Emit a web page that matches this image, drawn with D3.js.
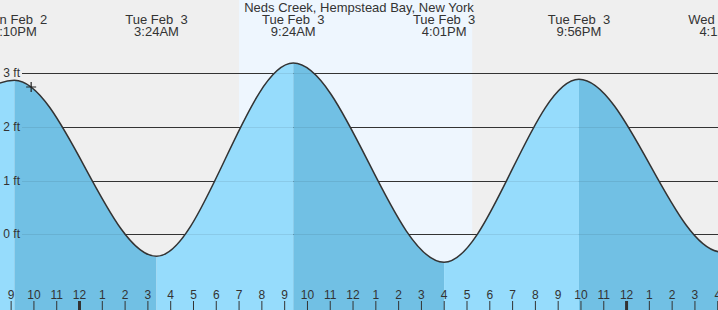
<!DOCTYPE html>
<html>
<head>
<meta charset="utf-8">
<script src="https://cdn.jsdelivr.net/npm/d3@7"></script>
<style>
  body { margin: 0; background: #efefef; }
  svg { display: block; font-family: "Liberation Sans", Arial, sans-serif; }
  text { fill: #333; white-space: pre; }
</style>
</head>
<body>
<div id="chart"></div>
<script>
// tide extremes (local time) and heights in ft
var tideTimes = ["2026-02-02T14:58", "2026-02-02T21:10", "2026-02-03T03:24", "2026-02-03T09:24",
                 "2026-02-03T16:01", "2026-02-03T21:56", "2026-02-04T04:12", "2026-02-04T10:20"];
var tideHeights = [-0.35, 2.87, -0.41, 3.19, -0.52, 2.89, -0.33, 3.0];
var tideLabels = ["Mon Feb  2", "Mon Feb  2", "Tue Feb  3", "Tue Feb  3",
                  "Tue Feb  3", "Tue Feb  3", "Wed Feb  4", "Wed Feb  4"];
var timeLabels = ["2:58PM", "9:10PM", "3:24AM", "9:24AM", "4:01PM", "9:56PM", "4:12AM", "10:20AM"];
var daylight = ["2026-02-03T07:01", "2026-02-03T17:15"];
var nowTime = "2026-02-02T21:54";
var viewRange = ["2026-02-02T20:32", "2026-02-04T04:02"];
var feetTicks = [0, 1, 2, 3];
var title = "Neds Creek, Hempstead Bay, New York";

var width = 718, height = 310;
var parse = d3.timeParse("%Y-%m-%dT%H:%M");

var tides = tideTimes.map((t, i) => ({
    time: parse(t), ft: tideHeights[i], day: tideLabels[i], clock: timeLabels[i]
}));

var svg = d3.select('#chart').append('svg')
    .attr('width', width)
    .attr('height', height);

var x = d3.scaleTime()
    .domain(viewRange.map(parse))
    .range([0, width]);

var y = d3.scaleLinear()
    .domain([0, 3])
    .range([234.3, 73.3]);

// background + daylight band
svg.append('rect')
    .attr('width', width).attr('height', height)
    .attr('fill', '#efefef');

svg.append('rect')
    .attr('x', x(parse(daylight[0])))
    .attr('width', x(parse(daylight[1])) - x(parse(daylight[0])))
    .attr('y', 0).attr('height', height)
    .attr('fill', '#eef6fe');

// grid lines (under the water)
svg.append('g').selectAll('line')
    .data(feetTicks)
    .enter().append('line')
    .attr('x1', 22).attr('x2', width)
    .attr('y1', d => Math.round(y(d)) + 0.5)
    .attr('y2', d => Math.round(y(d)) + 0.5)
    .attr('stroke', '#333');

// water area
var area = d3.area()
    .curve(d3.curveMonotoneX)
    .x(d => x(d.time))
    .y0(height)
    .y1(d => y(d.ft));

var line = d3.line()
    .curve(d3.curveMonotoneX)
    .x(d => x(d.time))
    .y(d => y(d.ft));

svg.append('clipPath')
    .attr('id', 'water')
    .append('path')
    .attr('d', area(tides));

var water = svg.append('g').attr('clip-path', 'url(#water)');
water.selectAll('rect')
    .data(tides.slice(0, -1))
    .enter().append('rect')
    .attr('x', (d, i) => x(d.time))
    .attr('width', (d, i) => x(tides[i + 1].time) - x(d.time))
    .attr('y', 0).attr('height', height)
    .attr('fill', (d, i) => tides[i + 1].ft < d.ft ? '#71c0e4' : '#96dcfc');

// faint grid over the water
water.selectAll('line')
    .data(feetTicks)
    .enter().append('line')
    .attr('x1', 22).attr('x2', width)
    .attr('y1', d => Math.round(y(d)) + 0.5)
    .attr('y2', d => Math.round(y(d)) + 0.5)
    .attr('stroke', '#000')
    .attr('stroke-opacity', 0.08);

svg.append('g').selectAll('text')
    .data(feetTicks)
    .enter().append('text')
    .attr('x', 20)
    .attr('y', d => y(d) + 4)
    .attr('text-anchor', 'end')
    .style('font-size', '12px')
    .text(d => d + ' ft');

svg.append('path')
    .attr('fill', 'none')
    .attr('stroke', '#333')
    .attr('stroke-width', 1.5)
    .attr('d', line(tides));

// current position marker
var nowX = x(parse(nowTime));
var nowSeg = d3.bisector(d => d.time).right(tides, parse(nowTime));
var a = tides[nowSeg - 1], b = tides[nowSeg];
var tt = (parse(nowTime) - a.time) / (b.time - a.time);
var nowFt = a.ft + (b.ft - a.ft) * (3 * tt * tt - 2 * tt * tt * tt);
var nowY = y(nowFt);
svg.append('path')
    .attr('d', 'M' + (nowX - 5) + ',' + nowY + 'H' + (nowX + 5) + 'M' + nowX + ',' + (nowY - 5) + 'V' + (nowY + 5))
    .attr('stroke', '#222')
    .attr('stroke-width', 1.2);

// hour axis along the bottom
var xAxis = svg.append('g')
    .attr('transform', 'translate(0,' + height + ')')
    .call(d3.axisTop(x)
        .ticks(d3.timeHour.every(1))
        .tickSize(9)
        .tickPadding(2)
        .tickFormat(d3.timeFormat('%-I')));
xAxis.select('.domain').remove();
xAxis.selectAll('.tick line')
    .attr('stroke', '#333')
    .attr('stroke-width', d => d.getHours() === 0 ? 3 : 1);
xAxis.selectAll('.tick text')
    .attr('fill', '#333')
    .style('font-size', '12px')
    .style('font-family', '"Liberation Sans", Arial, sans-serif');

// high / low labels along the top
var heads = svg.append('g').selectAll('g')
    .data(tides)
    .enter().append('g')
    .attr('transform', d => 'translate(' + x(d.time) + ',0)');
heads.append('text')
    .attr('y', 24)
    .attr('text-anchor', 'middle')
    .style('font-size', '13px')
    .text(d => d.day);
heads.append('text')
    .attr('y', 36)
    .attr('text-anchor', 'middle')
    .style('font-size', '13px')
    .text(d => d.clock);

svg.append('text')
    .attr('x', width / 2)
    .attr('y', 12)
    .attr('text-anchor', 'middle')
    .style('font-size', '13px')
    .text(title);
</script>
</body>
</html>
